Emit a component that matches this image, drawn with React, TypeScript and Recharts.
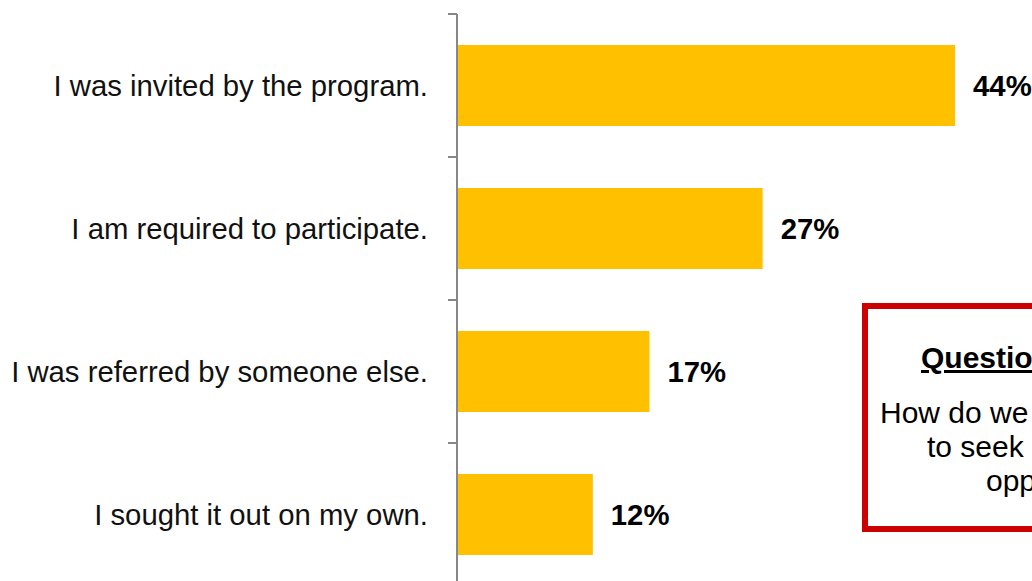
import React from 'react';
import { BarChart, Bar, XAxis, YAxis, LabelList } from 'recharts';

const categories = [
  'I was invited by the program.',
  'I am required to participate.',
  'I was referred by someone else.',
  'I sought it out on my own.',
];
const percentValues = [44, 27, 17, 12];
const boxTitle = 'Question:';
const boxLines = ['How do we encourage people', 'to seek out learning', 'opportunities?'];

const data = categories.map((c, i) => ({ name: c, value: percentValues[i] }));

const FONT = '"Liberation Sans", Arial, sans-serif';
const CHART_W = 1032;
const CHART_H = 600;
const MARGIN = { top: 14, right: 9, bottom: 14, left: 0 };
const AXIS_COLOR = '#878787';
const BAND = (CHART_H - MARGIN.top - MARGIN.bottom) / categories.length;
const FS = 29.3;
const BOX_FS = 30;

const CatTick = (props: any) => {
  const { x, y, payload, index } = props;
  const axisX = x + 29;
  const half = BAND / 2;
  return (
    <g>
      <line x1={axisX - 9} x2={axisX} y1={y - half} y2={y - half} stroke={AXIS_COLOR} strokeWidth={2} />
      {index === categories.length - 1 && (
        <line x1={axisX - 9} x2={axisX} y1={y + half} y2={y + half} stroke={AXIS_COLOR} strokeWidth={2} />
      )}
      <text x={x} y={y} dy="0.355em" textAnchor="end" fontSize={FS} fill="#111" fontFamily={FONT}>
        {payload.value}
      </text>
    </g>
  );
};

export default function App() {
  return (
    <div style={{ position: 'fixed', left: 0, top: 0, width: 1032, height: 581, overflow: 'hidden', background: '#fff' }}>
      <BarChart
        width={CHART_W}
        height={CHART_H}
        data={data}
        layout="vertical"
        margin={MARGIN}
        barSize={81}
      >
        <XAxis type="number" domain={[0, 50]} hide />
        <YAxis
          type="category"
          dataKey="name"
          width={457}
          axisLine={{ stroke: AXIS_COLOR, strokeWidth: 2 }}
          tickLine={false}
          tickSize={0}
          tickMargin={29}
          tick={<CatTick />}
        />
        <Bar dataKey="value" fill="#FFC000" barSize={81} isAnimationActive={false}>
          <LabelList
            dataKey="value"
            position="right"
            offset={18}
            formatter={(v: any) => `${v}%`}
            style={{ fontSize: FS, fontWeight: 'bold', fill: '#000', fontFamily: FONT }}
          />
        </Bar>
      </BarChart>
      <svg width={1032} height={581} style={{ position: 'absolute', left: 0, top: 0, pointerEvents: 'none' }}>
        <rect x={865} y={306} width={440} height={223} fill="#fff" stroke="#CC0000" strokeWidth={6} />
        <text x={921} y={368} fontSize={BOX_FS} fontWeight="bold" fontFamily={FONT} fill="#000" textDecoration="underline">
          {boxTitle}
        </text>
        <text x={880} y={423} fontSize={BOX_FS} fontFamily={FONT} fill="#000">{boxLines[0]}</text>
        <text x={927} y={457} fontSize={BOX_FS} fontFamily={FONT} fill="#000">{boxLines[1]}</text>
        <text x={986} y={491} fontSize={BOX_FS} fontFamily={FONT} fill="#000">{boxLines[2]}</text>
      </svg>
    </div>
  );
}
